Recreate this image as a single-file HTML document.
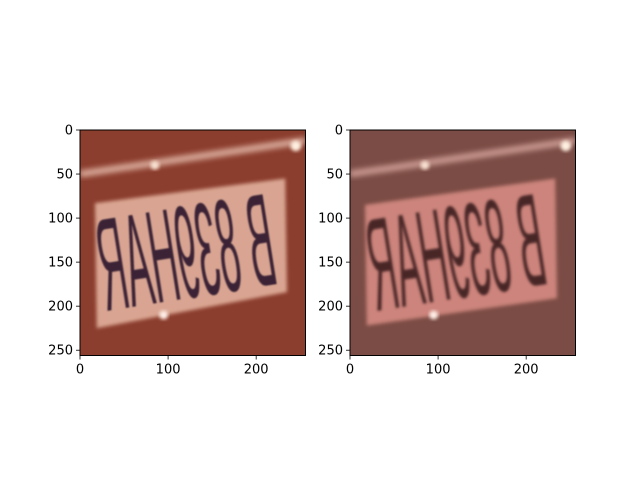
<!DOCTYPE html>
<html><head><meta charset="utf-8"><style>
html,body{margin:0;padding:0;background:#fff;}
svg{display:block;font-family:"DejaVu Sans","Liberation Sans",sans-serif;}
</style></head><body>
<svg id="fig" width="640" height="480" viewBox="0 0 640 480">
<defs>
<filter id="blur1" x="-20%" y="-20%" width="140%" height="140%"><feGaussianBlur stdDeviation="2"/></filter>
<filter id="blur2" x="-20%" y="-20%" width="140%" height="140%"><feGaussianBlur stdDeviation="3"/></filter>
<filter id="blurT" x="-20%" y="-20%" width="140%" height="140%"><feGaussianBlur stdDeviation="0.9"/></filter>
<filter id="blurT2" x="-20%" y="-20%" width="140%" height="140%"><feGaussianBlur stdDeviation="1.4"/></filter>
<clipPath id="clipL"><rect x="0" y="0" width="256" height="256"/></clipPath>
</defs>
</svg>
<script>
const xTicks=[0,100,200];
const yTicks=[0,50,100,150,200,250];
const imgSize=256;
const panels=[
 {name:'original-image',x0:80,bg:'#8c3e2e',plate:'#d9a592',bar:'#e8c0b0',text:'#3a2236',tf:'blurT',
  plateCorners:[[17,83],[233,55],[235,184],[19,225]]},
 {name:'processed-image',x0:350,bg:'#7b4c45',plate:'#cc847c',bar:'#d8a8a0',text:'#4a2628',tf:'blurT2',
  plateCorners:[[17,85],[233,55],[235,191],[19,222]]}
];
const NS='http://www.w3.org/2000/svg';
const svg=document.getElementById('fig');
const top0=130, W=225.5, sc=W/imgSize;
function mk(t,a,p){const e=document.createElementNS(NS,t);for(const k in a)e.setAttribute(k,a[k]);(p||svg).appendChild(e);return e;}
panels.forEach(p=>{
 const g=mk('g',{transform:`translate(${p.x0},${top0}) scale(${sc})`});
 
 
 const ig=mk('g',{'clip-path':'url(#clipL)'},g);
 mk('rect',{x:0,y:0,width:256,height:256,fill:p.bg},ig);
 mk('path',{d:'M0,50 L256,12',stroke:p.bar,'stroke-width':8,fill:'none',filter:'url(#blur2)',opacity:0.8},ig);
 mk('circle',{cx:245,cy:18,r:6,fill:'#fff0e0',filter:'url(#blur1)'},ig);
 mk('circle',{cx:85,cy:40,r:5,fill:'#f8e0d0',filter:'url(#blur1)'},ig);
 const pts=p.plateCorners.map(c=>c.join(',')).join(' ');
 const pl=mk('polygon',{points:pts,fill:p.plate,filter:'url(#blur1)'},ig);
 
 
 mk('circle',{cx:95,cy:210,r:5,fill:'#fff0e8',filter:'url(#blur1)'},ig);
 const t=mk('text',{x:0,y:0,'font-size':150,'text-anchor':'middle',fill:p.text,
   transform:'translate(128,190) rotate(-9) scale(-1,1)',textLength:200,lengthAdjust:'spacingAndGlyphs',
   style:'font-family:"Liberation Sans",sans-serif',filter:`url(#${p.tf})`},ig);
 t.textContent='B 839HAR';
 
 
 const fr=mk('rect',{x:p.x0,y:top0,width:W,height:W,fill:'none',stroke:'#000','stroke-width':1});
 
 
 xTicks.forEach(v=>{
  const x=p.x0+v*sc;
  mk('line',{x1:x,y1:top0+W,x2:x,y2:top0+W+4,stroke:'#000','stroke-width':0.8});
  const l=mk('text',{x:x,y:top0+W+18,'font-size':13,'text-anchor':'middle',fill:'#000'});
  l.textContent=v;
  
  
 });
 yTicks.forEach(v=>{
  const y=top0+v*sc;
  mk('line',{x1:p.x0,y1:y,x2:p.x0-4,y2:y,stroke:'#000','stroke-width':0.8});
  const l=mk('text',{x:p.x0-7,y:y+4.5,'font-size':13,'text-anchor':'end',fill:'#000'});
  l.textContent=v;
  
  
 });
});
</script>
</body></html>
